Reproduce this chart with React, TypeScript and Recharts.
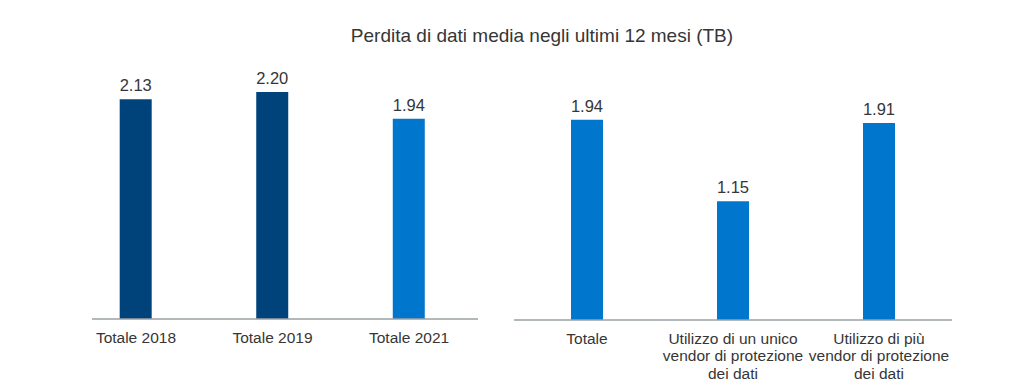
import React from 'react';
import { BarChart, Bar, XAxis, YAxis, Cell, LabelList } from 'recharts';

const leftCats = ['Totale 2018', 'Totale 2019', 'Totale 2021'];
const leftVals = [2.13, 2.2, 1.94];
const leftColors = ['#00437A', '#00437A', '#0077CC'];

const rightCats = ['Totale', 'Utilizzo di un unico\nvendor di protezione\ndei dati', 'Utilizzo di più\nvendor di protezione\ndei dati'];
const rightVals = [1.94, 1.15, 1.91];

const FONT = '"Liberation Sans", Arial, sans-serif';
const TEXT = '#363636';
const BLUE = '#0077CC';

const leftData = leftCats.map((name, i) => ({ idx: i, name, value: leftVals[i] }));
const rightData = rightCats.map((name, i) => ({ name, value: rightVals[i] }));

const MultiLineTick = (props: any) => {
  const { x, y, payload, labels } = props;
  const raw = labels ? labels[payload.value] : payload.value;
  const lines = String(raw).split('\n');
  return (
    <text x={x} y={y} textAnchor="middle" fill={TEXT} fontSize={15.5} fontFamily={FONT}>
      {lines.map((l, i) => (
        <tspan key={i} x={x} dy={i === 0 ? 23.5 : 17.5}>{l}</tspan>
      ))}
    </text>
  );
};

export default function App() {
  return (
    <div style={{ position: 'fixed', left: 0, top: 0, width: 1024, height: 390, background: '#fff', fontFamily: FONT }}>
      <div style={{ position: 'absolute', left: 0, top: 25, width: 1084, textAlign: 'center', fontSize: 19, color: TEXT }}>
        Perdita di dati media negli ultimi 12 mesi (TB)
      </div>
      <div style={{ position: 'absolute', left: 0, top: 0 }}>
        <BarChart width={500} height={390} data={leftData} margin={{ top: 61, right: 22, left: 92, bottom: 0 }}>
          <XAxis
            type="number"
            dataKey="idx"
            domain={[-0.322, 2.505]}
            ticks={[0, 1, 2]}
            height={71}
            tickSize={0}
            tickMargin={0}
            tickLine={false}
            axisLine={{ stroke: '#9aa0a4', strokeWidth: 1.5 }}
            tick={<MultiLineTick labels={leftCats} />}
          />
          <YAxis hide domain={[0, 2.5]} />
          <Bar dataKey="value" barSize={32} isAnimationActive={false}>
            {leftData.map((d, i) => <Cell key={d.name} fill={leftColors[i]} />)}
            <LabelList dataKey="value" position="top" offset={8} fill={TEXT} fontSize={16.5} fontFamily={FONT} formatter={(v: any) => Number(v).toFixed(2)} />
          </Bar>
        </BarChart>
      </div>
      <div style={{ position: 'absolute', left: 500, top: 0 }}>
        <BarChart width={524} height={390} data={rightData} margin={{ top: 62, right: 72, left: 14, bottom: 0 }}>
          <XAxis
            dataKey="name"
            height={70}
            interval={0}
            tickSize={0}
            tickMargin={0}
            tickLine={false}
            axisLine={{ stroke: '#9aa0a4', strokeWidth: 1.5 }}
            tick={<MultiLineTick />}
          />
          <YAxis hide domain={[0, 2.5]} />
          <Bar dataKey="value" barSize={32} fill={BLUE} isAnimationActive={false}>
            <LabelList dataKey="value" position="top" offset={8} fill={TEXT} fontSize={16.5} fontFamily={FONT} formatter={(v: any) => Number(v).toFixed(2)} />
          </Bar>
        </BarChart>
      </div>
    </div>
  );
}
